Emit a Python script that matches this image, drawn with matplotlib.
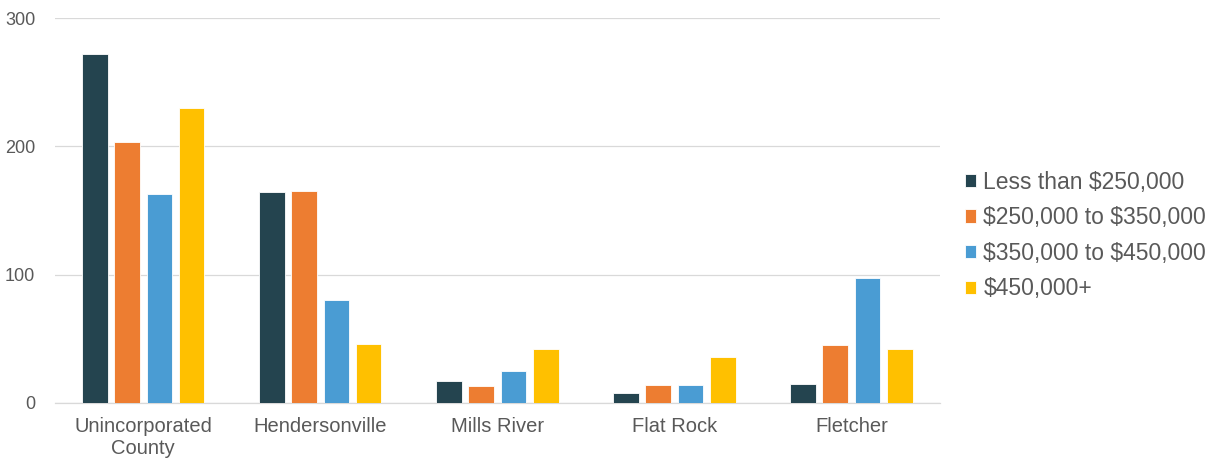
import matplotlib
matplotlib.use("Agg")
import matplotlib.pyplot as plt
import numpy as np

plt.rcParams["font.family"] = ["Liberation Sans", "DejaVu Sans"]
plt.rcParams["text.parse_math"] = False

places = ["Unincorporated\nCounty", "Hendersonville", "Mills River", "Flat Rock", "Fletcher"]
series = ["Less than $250,000", "$250,000 to $350,000", "$350,000 to $450,000", "$450,000+"]
under_250 = [272, 164, 17, 8, 15]
from_250_350 = [203, 165, 13, 14, 45]
from_350_450 = [163, 80, 25, 14, 97]
over_450 = [230, 46, 42, 36, 42]
colors = ["#24444F", "#ED7D31", "#4A9CD3", "#FFC000"]
GREY = "#595959"

fig = plt.figure(figsize=(12.16, 4.62), dpi=100)
ax = fig.add_axes([0.045, 0.128, 0.728, 0.833])

x = np.arange(len(places))
width = 0.145
pitch = 0.182
for i, (vals, lab, c) in enumerate(zip([under_250, from_250_350, from_350_450, over_450],
                                      series, colors)):
    ax.bar(x + (i - 1.5) * pitch, vals, width=width, color=c, label=lab,
           edgecolor="white", linewidth=0.6, zorder=3)

ax.set_xlim(-0.5, len(places) - 0.5)
ax.set_ylim(0, 300)
ax.set_yticks([0, 100, 200, 300])
ax.set_xticks(x)
ax.set_xticklabels(places, fontsize=14.5, color=GREY, linespacing=1.2)
ax.tick_params(axis="y", labelsize=13, labelcolor=GREY, length=0, pad=14)
ax.tick_params(axis="x", length=0, pad=10.5)
ax.grid(axis="y", color="#D9D9D9", linewidth=0.9, zorder=0)
ax.set_axisbelow(True)
for s in ("top", "right", "left"):
    ax.spines[s].set_visible(False)
ax.spines["bottom"].set_color("#D9D9D9")
ax.spines["bottom"].set_linewidth(0.9)

leg = ax.legend(loc="center left", bbox_to_anchor=(1.005, 0.435), frameon=False,
                fontsize=16.5, handlelength=0.5, handleheight=0.5,
                handletextpad=0.3, labelspacing=0.55)
for t in leg.get_texts():
    t.set_color(GREY)

fig.savefig("out.png", dpi=100)
